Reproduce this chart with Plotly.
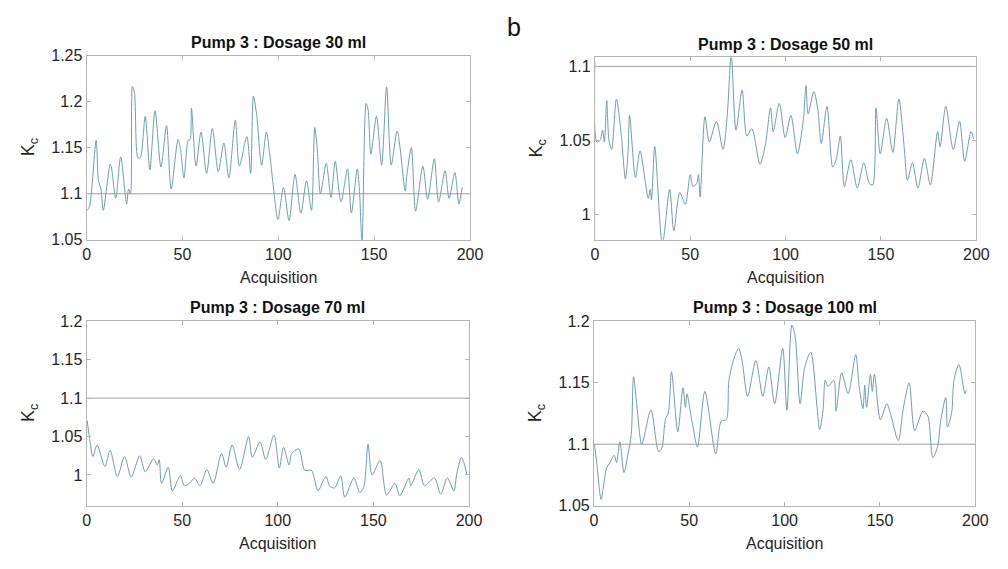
import plotly.graph_objects as go

# ---------------- data ----------------
threshold = 1.1

titles = ["Pump 3 : Dosage 30 ml", "Pump 3 : Dosage 50 ml",
          "Pump 3 : Dosage 70 ml", "Pump 3 : Dosage 100 ml"]

acq_30 = [0.3, 1.5, 5, 6.2, 7.5, 8.7, 12.3, 13, 15.2, 17.8, 20.9, 21.9, 22.9, 23.9, 25, 26.8, 28,
          30.6, 33, 35.7, 38.8, 41.7, 44.1, 47.7, 49, 50.8, 53, 54, 54.7, 57.1, 59.7, 62.6, 65.6,
          68.7, 71.6, 74.2, 77.6, 79.7, 83.6, 85.6, 87, 88.7, 91.3, 93.8, 95.6, 97.3, 99.8, 102.7,
          105.6, 108.7, 111.8, 114.7, 117.3, 119, 120.3, 122, 125, 127.5, 129.7, 132.7, 136.1,
          138.1, 141.2, 142.3, 143.7, 145.8, 146.8, 148.3, 151.2, 153.9, 156.5, 158.9, 162, 166.2,
          167, 169.4, 171.6, 175.4, 177.9, 181.4, 183.6, 187, 189.1, 192.1, 194.2, 195.9]
kc_30 = [1.082, 1.086, 1.158, 1.114, 1.105, 1.082, 1.132, 1.128, 1.095, 1.140, 1.089, 1.105, 1.100,
         1.2165, 1.209, 1.139, 1.139, 1.184, 1.126, 1.190, 1.129, 1.174, 1.105, 1.159, 1.148, 1.117,
         1.158, 1.159, 1.193, 1.130, 1.167, 1.122, 1.171, 1.124, 1.155, 1.117, 1.180, 1.130, 1.162,
         1.122, 1.206, 1.186, 1.131, 1.167, 1.142, 1.110, 1.072, 1.107, 1.071, 1.121, 1.079, 1.114,
         1.082, 1.172, 1.149, 1.100, 1.133, 1.096, 1.135, 1.091, 1.127, 1.079, 1.127, 1.105, 1.045,
         1.198, 1.192, 1.143, 1.184, 1.131, 1.216, 1.131, 1.168, 1.103, 1.119, 1.150, 1.081, 1.130,
         1.094, 1.138, 1.091, 1.125, 1.095, 1.123, 1.089, 1.107]

acq_50 = [0, 1.0, 2.7, 4, 5, 6.2, 7.4, 8.8, 11.3, 13.9, 16, 17.4, 18.2, 21.3, 23.7, 28, 29, 29.7,
          31.4, 35.4, 39.2, 41.4, 44.5, 47.4, 50, 51.4, 53.4, 54.3, 55.2, 57.7, 60, 63.7, 67.2,
          69.4, 71.5, 74, 77.2, 79.7, 82.3, 86.6, 89.5, 92.1, 93.5, 96.7, 99.8, 102.8, 106.2,
          109.3, 110.7, 111.8, 114.8, 117, 118.7, 121.7, 124.7, 126.5, 128.7, 130.8, 134.2, 137.6,
          141, 143.9, 145.7, 147.4, 149.6, 153, 156.2, 159.4, 162.2, 163.9, 166.5, 169.4, 172.8,
          175.9, 179.7, 181, 184, 187.9, 191.2, 193.9, 197.2, 198.6]
kc_50 = [1.103, 1.049, 1.050, 1.057, 1.049, 1.077, 1.050, 1.044, 1.078, 1.053, 1.024, 1.042, 1.067,
         1.025, 1.043, 1.011, 1.017, 1.010, 1.046, 0.980, 1.017, 0.989, 1.015, 1.007, 1.027, 1.019,
         1.021, 1.027, 1.012, 1.066, 1.049, 1.063, 1.044, 1.067, 1.108, 1.057, 1.084, 1.053, 1.058,
         1.034, 1.048, 1.072, 1.056, 1.075, 1.052, 1.067, 1.041, 1.064, 1.087, 1.068, 1.083, 1.070,
         1.048, 1.073, 1.032, 1.037, 1.053, 1.019, 1.037, 1.018, 1.035, 1.021, 1.020, 1.072, 1.041,
         1.065, 1.042, 1.078, 1.045, 1.023, 1.035, 1.018, 1.038, 1.020, 1.056, 1.046, 1.073, 1.044,
         1.063, 1.036, 1.056, 1.051]

acq_70 = [0.3, 1.5, 3.3, 5.5, 9.6, 12.3, 16.1, 19.9, 23.3, 27.8, 30.7, 35, 37, 38, 39.2, 42.7, 44.9,
          49, 51.2, 54.2, 56.4, 59.3, 62.9, 66.2, 70.6, 73, 76.1, 80, 84.7, 86.7, 90.7, 93.7, 98,
          100.8, 103, 105.9, 107.3, 111, 114.1, 117.6, 121, 123.6, 125.3, 127, 129.6, 132.9, 135,
          139.8, 142.9, 145, 147.2, 149.3, 153.5, 156.9, 161.3, 163.8, 168.6, 169.5, 173.8, 176.7,
          181.9, 185.2, 188.7, 192.1, 193.5, 196.1, 199]
kc_70 = [1.071, 1.049, 1.024, 1.039, 1.011, 1.032, 0.998, 1.024, 0.997, 1.025, 1.004, 1.021, 1.013,
         1.020, 0.989, 1.010, 0.979, 0.999, 0.986, 0.990, 0.996, 0.986, 1.007, 0.989, 1.028, 1.010,
         1.039, 1.007, 1.050, 1.023, 1.043, 1.020, 1.052, 1.009, 1.036, 1.013, 1.028, 1.034, 1.006,
         1.006, 0.979, 0.992, 0.998, 0.986, 0.983, 0.999, 0.971, 0.996, 0.977, 0.985, 1.040, 1.000,
         1.019, 0.974, 0.989, 0.973, 0.996, 0.986, 1.007, 0.986, 0.996, 0.975, 0.996, 0.979, 1.000,
         1.023, 1.000]

acq_100 = [0.3, 1.5, 3.8, 5.5, 6.7, 8.4, 10.7, 11.9, 13.6, 15.8, 17.9, 19.6, 20.8, 22.7, 25.1, 29.9,
           33.9, 35.6, 37.6, 39, 40.7, 44, 46.7, 48, 48.8, 51.4, 54.3, 58.2, 63.9, 66.8, 69.4, 70.8,
           73.7, 75.9, 77.7, 80.6, 84.9, 88.6, 91.7, 94.8, 99, 101.2, 103.8, 105.5, 108.1, 110.6,
           113.7, 118.4, 120.1, 121.3, 122.7, 125.8, 127, 129.9, 133.3, 137.3, 139, 141.1, 142, 143,
           145, 146, 147.1, 150.2, 153.6, 155.3, 159.6, 162.2, 165.3, 168.2, 172.5, 175.1, 177.7,
           180.2, 182, 184.5, 185.4, 187.6, 188.8, 191.4, 194.5, 195.2]
kc_100 = [1.100, 1.085, 1.055, 1.071, 1.081, 1.085, 1.091, 1.085, 1.102, 1.077, 1.092, 1.108, 1.155,
          1.129, 1.100, 1.128, 1.094, 1.097, 1.121, 1.125, 1.159, 1.110, 1.146, 1.130, 1.141, 1.119,
          1.098, 1.143, 1.092, 1.119, 1.120, 1.152, 1.171, 1.178, 1.168, 1.139, 1.168, 1.139, 1.163,
          1.133, 1.178, 1.128, 1.197, 1.188, 1.133, 1.163, 1.175, 1.112, 1.127, 1.152, 1.147, 1.152,
          1.127, 1.158, 1.141, 1.173, 1.148, 1.129, 1.148, 1.130, 1.157, 1.143, 1.157, 1.120, 1.133,
          1.126, 1.103, 1.129, 1.150, 1.111, 1.127, 1.123, 1.089, 1.098, 1.121, 1.138, 1.114, 1.126,
          1.152, 1.165, 1.141, 1.144]

x_ticks = [0, 50, 100, 150, 200]
y_ticks = [
    [1.05, 1.1, 1.15, 1.2, 1.25],
    [1.0, 1.05, 1.1],
    [1.0, 1.05, 1.1, 1.15, 1.2],
    [1.05, 1.1, 1.15, 1.2],
]
y_ticklabels = [
    ["1.05", "1.1", "1.15", "1.2", "1.25"],
    ["1", "1.05", "1.1"],
    ["1", "1.05", "1.1", "1.15", "1.2"],
    ["1.05", "1.1", "1.15", "1.2"],
]
y_ranges = [[1.05, 1.25], [0.983, 1.106], [0.96, 1.2], [1.05, 1.2]]
panel_label = "b"

# ---------------- layout ----------------
W, H = 1008, 569
FONT = "Liberation Sans, Arial, sans-serif"
LINE_COLOR = "#6b9fb3"
AX_COLOR = "#b5b5b5"

# pixel boxes of the four axes: (left, right, top, bottom)
boxes = [(84, 474, 49, 239), (601, 989, 51, 239), (84, 473, 323, 513), (600, 988, 323, 513)]

series = [(acq_30, kc_30), (acq_50, kc_50), (acq_70, kc_70), (acq_100, kc_100)]

fig = go.Figure()
annotations = []
shapes = []
layout = dict(
    width=W, height=H, margin=dict(l=0, r=0, t=0, b=0),
    paper_bgcolor="white", plot_bgcolor="white", showlegend=False,
    font=dict(family=FONT, size=15, color="#262626"),
)

for i, ((l, r, t, b), (xs, ys)) in enumerate(zip(boxes, series)):
    n = i + 1
    xa = "xaxis" if n == 1 else f"xaxis{n}"
    ya = "yaxis" if n == 1 else f"yaxis{n}"
    xr = "x" if n == 1 else f"x{n}"
    yr = "y" if n == 1 else f"y{n}"
    layout[xa] = dict(
        domain=[l / W, r / W], anchor=yr, range=[0, 200],
        tickvals=x_ticks, ticktext=[str(v) for v in x_ticks],
        ticks="inside", ticklen=4, tickcolor=AX_COLOR, showline=True, linecolor=AX_COLOR,
        linewidth=1, mirror="ticks", showgrid=False, zeroline=False,
        tickfont=dict(family=FONT, size=16, color="#262626"),
    )
    layout[ya] = dict(
        domain=[1 - b / H, 1 - t / H], anchor=xr, range=y_ranges[i],
        tickvals=y_ticks[i], ticktext=y_ticklabels[i],
        ticks="inside", ticklen=4, tickcolor=AX_COLOR, showline=True, linecolor=AX_COLOR,
        linewidth=1, mirror="ticks", showgrid=False, zeroline=False,
        tickfont=dict(family=FONT, size=16, color="#262626"),
    )
    fig.add_trace(go.Scatter(
        x=xs, y=ys, xaxis=xr, yaxis=yr, mode="lines",
        line=dict(color=LINE_COLOR, width=1, shape="spline", smoothing=0.8),
        hoverinfo="skip",
    ))
    shapes.append(dict(
        type="line", xref=f"{xr} domain", yref=yr, x0=0, x1=1, y0=threshold, y1=threshold,
        line=dict(color="#a0a0a0", width=1), layer="below",
    ))
    # title
    annotations.append(dict(
        text=f"<b>{titles[i]}</b>", xref="paper", yref="paper",
        x=(l + r) / 2 / W, y=1 - (t - 3) / H, xanchor="center", yanchor="bottom",
        showarrow=False, font=dict(family=FONT, size=16, color="#111111"),
    ))
    # x axis title
    annotations.append(dict(
        text="Acquisition", xref="paper", yref="paper",
        x=(l + r) / 2 / W, y=1 - (b + 28) / H, xanchor="center", yanchor="top",
        showarrow=False, font=dict(family=FONT, size=16, color="#262626"),
    ))
    # y axis title
    annotations.append(dict(
        text="K<sub>c</sub>", xref="paper", yref="paper", textangle=-90,
        x=(l - 58) / W, y=1 - (t + b) / 2 / H, xanchor="center", yanchor="middle",
        showarrow=False, font=dict(family=FONT, size=18, color="#262626"),
    ))

annotations.append(dict(
    text=panel_label, xref="paper", yref="paper", x=519 / W, y=1 - 20 / H,
    xanchor="center", yanchor="middle", showarrow=False,
    font=dict(family=FONT, size=25, color="#111111"),
))

layout["annotations"] = annotations
layout["shapes"] = shapes
fig.update_layout(**layout)
fig.write_html("out.html")
